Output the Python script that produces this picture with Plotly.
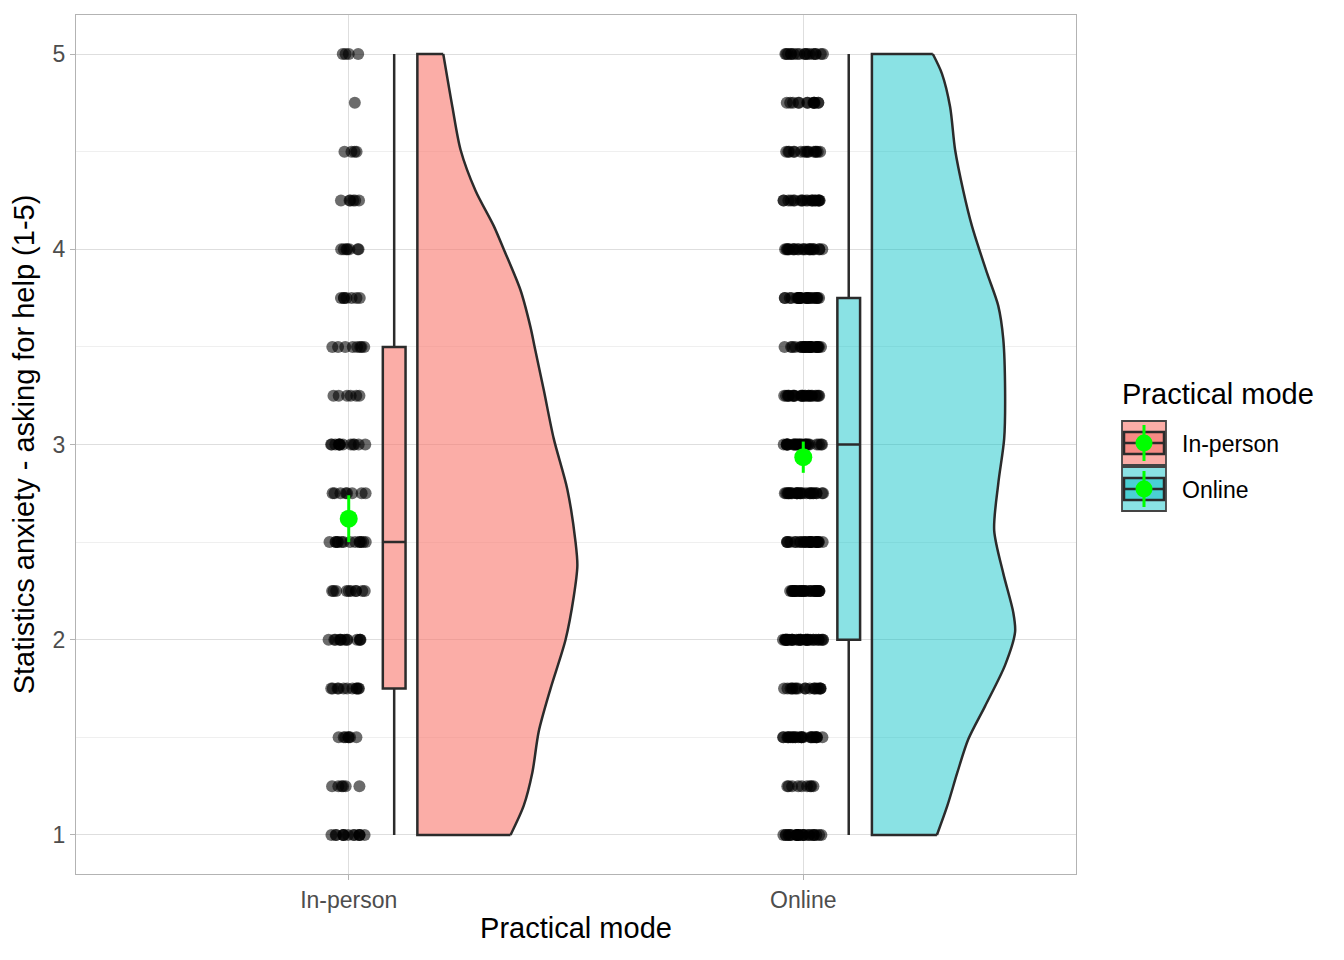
import plotly.graph_objects as go

# ---------------- data ----------------
modes = ["In-person", "Online"]
mode_pos = [1, 2]
levels = [1.0, 1.25, 1.5, 1.75, 2.0, 2.25, 2.5, 2.75, 3.0, 3.25, 3.5, 3.75, 4.0, 4.25, 4.5, 4.75, 5.0]
counts_inperson = [13, 6, 7, 11, 13, 10, 14, 8, 13, 6, 8, 7, 7, 6, 4, 1, 4]
counts_online = [26, 9, 24, 18, 34, 29, 26, 26, 26, 24, 26, 24, 22, 20, 15, 13, 17]

# boxplot stats (lower whisker, q1, median, q3, upper whisker)
box_inperson = [1.0, 1.75, 2.5, 3.5, 5.0]
box_online = [1.0, 2.0, 3.0, 3.75, 5.0]

# mean and interval
mean_vals = [2.62, 2.935]
mean_err = [0.12, 0.08]

# half-violin density widths (in x-axis units)
vio_y_inperson = [1.0, 1.15, 1.32, 1.53, 1.75, 2.0, 2.22, 2.38, 2.5, 2.77, 3.03, 3.28, 3.5, 3.6, 3.79, 4.0, 4.12, 4.3, 4.51, 4.73, 5.0]
vio_w_inperson = [0.205, 0.234, 0.253, 0.267, 0.293, 0.326, 0.344, 0.352, 0.348, 0.330, 0.300, 0.278, 0.258, 0.249, 0.227, 0.190, 0.168, 0.128, 0.095, 0.077, 0.057]
vio_y_online = [1.0, 1.15, 1.32, 1.49, 1.66, 1.87, 2.04, 2.14, 2.34, 2.56, 2.80, 3.03, 3.28, 3.54, 3.71, 3.88, 4.12, 4.30, 4.51, 4.73, 4.90, 5.0]
vio_w_online = [0.143, 0.166, 0.188, 0.212, 0.249, 0.293, 0.315, 0.311, 0.289, 0.269, 0.278, 0.291, 0.293, 0.289, 0.278, 0.253, 0.220, 0.201, 0.183, 0.172, 0.154, 0.134]

fill_cols = ["rgba(248,118,109,0.6)", "rgba(0,191,196,0.46)"]
key_inner_cols = ["rgb(246,138,131)", "rgb(74,208,212)"]
line_col = "#2b2b2b"
green = "#00FF00"

BOX_OFF = 0.10
VIO_OFF = 0.151
LW = 2.5

fig = go.Figure()

groups = [
    (counts_inperson, box_inperson, vio_y_inperson, vio_w_inperson),
    (counts_online, box_online, vio_y_online, vio_w_online),
]

for i, (counts, bstats, vy, vw) in enumerate(groups):
    pos = mode_pos[i]
    # jittered raw points
    yvals = []
    for lv, c in zip(levels, counts):
        yvals += [lv] * c
    fig.add_trace(go.Box(
        y=yvals, x=[pos] * len(yvals), boxpoints="all", jitter=1, pointpos=0,
        width=0.09, fillcolor="rgba(0,0,0,0)", line=dict(width=0, color="rgba(0,0,0,0)"),
        marker=dict(color="black", opacity=0.58, size=12),
        showlegend=False, hoverinfo="y", name=modes[i],
    ))

for i, (counts, bstats, vy, vw) in enumerate(groups):
    pos = mode_pos[i]
    # half violin
    c = pos + VIO_OFF
    xs = [c + w for w in vw]
    fig.add_trace(go.Scatter(
        x=[c] + xs + [c], y=[vy[0]] + vy + [vy[-1]], mode="lines", fill="toself",
        fillcolor=fill_cols[i], line=dict(width=0), showlegend=False, hoverinfo="skip",
    ))
    fig.add_trace(go.Scatter(
        x=xs, y=vy, mode="lines", line=dict(color=line_col, width=LW, shape="spline", smoothing=0.8),
        showlegend=False, hoverinfo="skip",
    ))
    fig.add_trace(go.Scatter(
        x=[xs[0], c, c, xs[-1]], y=[vy[0], vy[0], vy[-1], vy[-1]], mode="lines",
        line=dict(color=line_col, width=LW), showlegend=False, hoverinfo="skip",
    ))
    # boxplot
    fig.add_trace(go.Box(
        x=[pos + BOX_OFF], lowerfence=[bstats[0]], q1=[bstats[1]], median=[bstats[2]],
        q3=[bstats[3]], upperfence=[bstats[4]], width=0.05, whiskerwidth=0,
        fillcolor=fill_cols[i], line=dict(color=line_col, width=LW),
        boxpoints=False, name=modes[i], showlegend=False,
    ))
    # mean + interval
    fig.add_trace(go.Scatter(
        x=[pos], y=[mean_vals[i]], mode="markers",
        marker=dict(color=green, size=18),
        error_y=dict(type="data", array=[mean_err[i]], color=green, thickness=3, width=0),
        showlegend=False,
    ))

# ---------------- legend drawn as key glyphs (layout decoration) ----------------
PL, PT, PW, PH = 76, 15, 1000, 859   # plot area in reference pixels


def px(x):
    return (x - PL) / PW


def py(y):
    return (PT + PH - y) / PH


shapes = []
annotations = [dict(
    x=px(1120), y=py(394), xref="paper", yref="paper", xanchor="left", yanchor="middle",
    text="Practical mode", showarrow=False, font=dict(size=29, color="black"),
)]
key_tops = [421, 467]
for i, name in enumerate(modes):
    t = key_tops[i]
    b = t + 44
    mid = t + 22
    shapes.append(dict(type="rect", xref="paper", yref="paper", x0=px(1122), x1=px(1166), y0=py(b), y1=py(t),
                       fillcolor=fill_cols[i], line=dict(color="#444444", width=1.8), layer="above"))
    shapes.append(dict(type="rect", xref="paper", yref="paper", x0=px(1124), x1=px(1164), y0=py(mid + 11), y1=py(mid - 11),
                       fillcolor=key_inner_cols[i], line=dict(color=line_col, width=LW), layer="above"))
    shapes.append(dict(type="line", xref="paper", yref="paper", x0=px(1124), x1=px(1164), y0=py(mid), y1=py(mid),
                       line=dict(color=line_col, width=LW), layer="above"))
    shapes.append(dict(type="line", xref="paper", yref="paper", x0=px(1144), x1=px(1144), y0=py(t + 4), y1=py(b - 4),
                       line=dict(color=green, width=3), layer="above"))
    shapes.append(dict(type="circle", xref="paper", yref="paper", x0=px(1135.5), x1=px(1152.5), y0=py(mid + 8.5), y1=py(mid - 8.5),
                       fillcolor=green, line=dict(color=green, width=0), layer="above"))
    annotations.append(dict(
        x=px(1180), y=py(mid + 1), xref="paper", yref="paper", xanchor="left", yanchor="middle",
        text=name, showarrow=False, font=dict(size=23, color="black"),
    ))

font_family = "Liberation Sans, Arial, sans-serif"
OFF = 8  # page body offset
fig.update_layout(
    width=1344, height=960,
    paper_bgcolor="white", plot_bgcolor="white",
    margin=dict(l=PL - OFF, r=1344 - (PL - OFF) - PW, t=PT - OFF, b=960 - (PT - OFF) - PH, autoexpand=False),
    font=dict(family=font_family, color="black"),
    boxmode="overlay",
    showlegend=False,
    shapes=shapes,
    annotations=annotations,
    xaxis=dict(
        range=[0.4, 2.6], tickvals=mode_pos, ticktext=modes,
        showgrid=True, gridcolor="#DEDEDE", gridwidth=1,
        ticks="outside", ticklen=5, tickcolor="#B3B3B3",
        tickfont=dict(size=23, color="#4D4D4D"),
        title=dict(text="Practical mode", font=dict(size=29), standoff=6),
        showline=True, linecolor="#B3B3B3", linewidth=1, mirror=True, zeroline=False,
    ),
    yaxis=dict(
        range=[0.8, 5.2], tickvals=[1, 2, 3, 4, 5],
        showgrid=True, gridcolor="#DEDEDE", gridwidth=1,
        minor=dict(tickvals=[1.5, 2.5, 3.5, 4.5], showgrid=True, gridcolor="#EFEFEF", gridwidth=0.8, ticks=""),
        ticks="outside", ticklen=5, tickcolor="#B3B3B3",
        tickfont=dict(size=23, color="#4D4D4D"),
        title=dict(text="Statistics anxiety - asking for help (1-5)", font=dict(size=29), standoff=12),
        showline=True, linecolor="#B3B3B3", linewidth=1, mirror=True, zeroline=False,
    ),
)

fig.write_html("out.html")
